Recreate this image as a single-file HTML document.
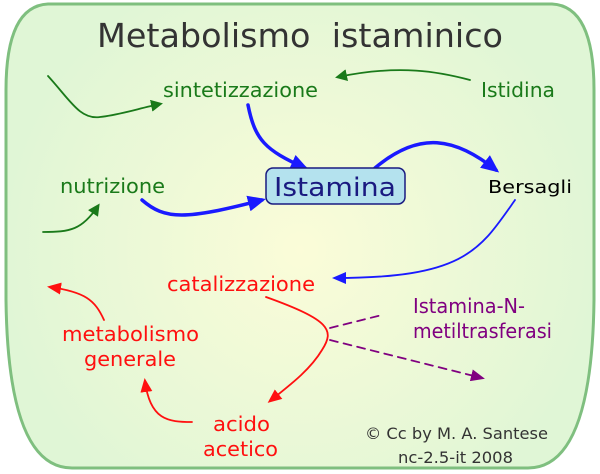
<!DOCTYPE html>
<html><head><meta charset="utf-8"><style>
html,body{margin:0;padding:0;background:#fff;}
svg{display:block;}
text{font-family:"DejaVu Sans","Liberation Sans",sans-serif;}
</style></head><body>
<svg width="600" height="474" viewBox="0 0 600 474" xmlns="http://www.w3.org/2000/svg">
<defs>
<radialGradient id="bg" cx="300" cy="250" r="300" gradientUnits="userSpaceOnUse">
<stop offset="0" stop-color="#fbfcd8"/><stop offset="1" stop-color="#e0f6d6"/>
</radialGradient>
<marker id="ag" markerWidth="12" markerHeight="12" refX="9" refY="6" orient="auto" markerUnits="userSpaceOnUse" viewBox="0 0 12 12"><path d="M0,0 L12,6 L0,12 Z" fill="#1a7a1a"/></marker>
<marker id="ab" markerWidth="18" markerHeight="16" refX="14" refY="8" orient="auto" markerUnits="userSpaceOnUse" viewBox="0 0 18 16"><path d="M0,0 L18,8 L0,16 Z" fill="#1a1aff"/></marker>
<marker id="ab2" markerWidth="14" markerHeight="12" refX="11" refY="6" orient="auto" markerUnits="userSpaceOnUse" viewBox="0 0 14 12"><path d="M0,0 L14,6 L0,12 Z" fill="#1a1aff"/></marker>
<marker id="ar" markerWidth="14" markerHeight="12" refX="11" refY="6" orient="auto" markerUnits="userSpaceOnUse" viewBox="0 0 14 12"><path d="M0,0 L14,6 L0,12 Z" fill="#ff1010"/></marker>
<marker id="ap" markerWidth="14" markerHeight="12" refX="11" refY="6" orient="auto" markerUnits="userSpaceOnUse" viewBox="0 0 14 12"><path d="M0,0 L14,6 L0,12 Z" fill="#800080"/></marker>
</defs>
<path d="M48,4 L552,4 Q594,6 594,90 L594,300 Q592,468 528,468 L72,468 Q8,468 6,300 L6,90 Q6,6 48,4 Z" fill="url(#bg)" stroke="#7fbf7f" stroke-width="3"/>
<text x="97" y="47" font-size="33" fill="#333" textLength="406" lengthAdjust="spacingAndGlyphs" xml:space="preserve">Metabolismo  istaminico</text>

<g fill="none" stroke-linecap="round">
<path d="M48,76 C70,100 80,120 100,117 C120,115 140,108 160,104" stroke="#1a7a1a" stroke-width="1.8" marker-end="url(#ag)"/>
<path d="M470,80 C440,72 400,64 338,77" stroke="#1a7a1a" stroke-width="1.8" marker-end="url(#ag)"/>
<path d="M43,232 C70,232 82,230 98,206" stroke="#1a7a1a" stroke-width="1.8" marker-end="url(#ag)"/>
<path d="M248,105 C255,140 265,150 305,168" stroke="#1a1aff" stroke-width="3.5" marker-end="url(#ab)"/>
<path d="M142,200 C165,220 185,220 262,200" stroke="#1a1aff" stroke-width="3.5" marker-end="url(#ab)"/>
<path d="M375,168 C420,130 455,138 496,170" stroke="#1a1aff" stroke-width="3.5" marker-end="url(#ab)"/>
<path d="M515,200 C480,250 465,278 335,278" stroke="#1a1aff" stroke-width="1.8" marker-end="url(#ab2)"/>
<path d="M266,297 C330,320 335,330 322,350 C310,370 290,385 270,401" stroke="#ff1010" stroke-width="1.8" marker-end="url(#ar)"/>
<path d="M104,320 C95,300 85,292 50,287" stroke="#ff1010" stroke-width="1.8" marker-end="url(#ar)"/>
<path d="M192,422 C168,422 150,420 145,381" stroke="#ff1010" stroke-width="1.8" marker-end="url(#ar)"/>
<path d="M330,328 L382,315" stroke="#800080" stroke-width="1.8" stroke-dasharray="8,6"/>
<path d="M330,340 L482,378" stroke="#800080" stroke-width="1.8" stroke-dasharray="8,6" marker-end="url(#ap)"/>
</g>

<rect x="266" y="168" width="139" height="36" rx="7" fill="#b4e2ee" stroke="#1a1a80" stroke-width="1.5"/>
<text x="274" y="196" font-size="26" fill="#1a1a80" textLength="122" lengthAdjust="spacingAndGlyphs">Istamina</text>

<g font-size="20">
<text x="163" y="97" fill="#1a7a1a" textLength="155" lengthAdjust="spacingAndGlyphs">sintetizzazione</text>
<text x="481" y="97" fill="#1a7a1a" textLength="74" lengthAdjust="spacingAndGlyphs">Istidina</text>
<text x="60" y="193" fill="#1a7a1a" textLength="105" lengthAdjust="spacingAndGlyphs">nutrizione</text>
<text x="488" y="193" fill="#000" font-size="18" textLength="84" lengthAdjust="spacingAndGlyphs">Bersagli</text>
<text x="167" y="291" fill="#ff1010" textLength="148" lengthAdjust="spacingAndGlyphs">catalizzazione</text>
<text x="413" y="313" fill="#800080" textLength="112" lengthAdjust="spacingAndGlyphs">Istamina-N-</text>
<text x="413" y="338" fill="#800080" textLength="139" lengthAdjust="spacingAndGlyphs">metiltrasferasi</text>
<text x="62" y="341" fill="#ff1010" textLength="137" lengthAdjust="spacingAndGlyphs">metabolismo</text>
<text x="84" y="366" fill="#ff1010" textLength="92" lengthAdjust="spacingAndGlyphs">generale</text>
<text x="213" y="431" fill="#ff1010" textLength="57" lengthAdjust="spacingAndGlyphs">acido</text>
<text x="203" y="456" fill="#ff1010" textLength="75" lengthAdjust="spacingAndGlyphs">acetico</text>
</g>
<text x="365" y="439" font-size="16" fill="#333" textLength="183" lengthAdjust="spacingAndGlyphs">© Cc by M. A. Santese</text>
<text x="398" y="463" font-size="16" fill="#333" textLength="115" lengthAdjust="spacingAndGlyphs">nc-2.5-it 2008</text>
</svg>
</body></html>
